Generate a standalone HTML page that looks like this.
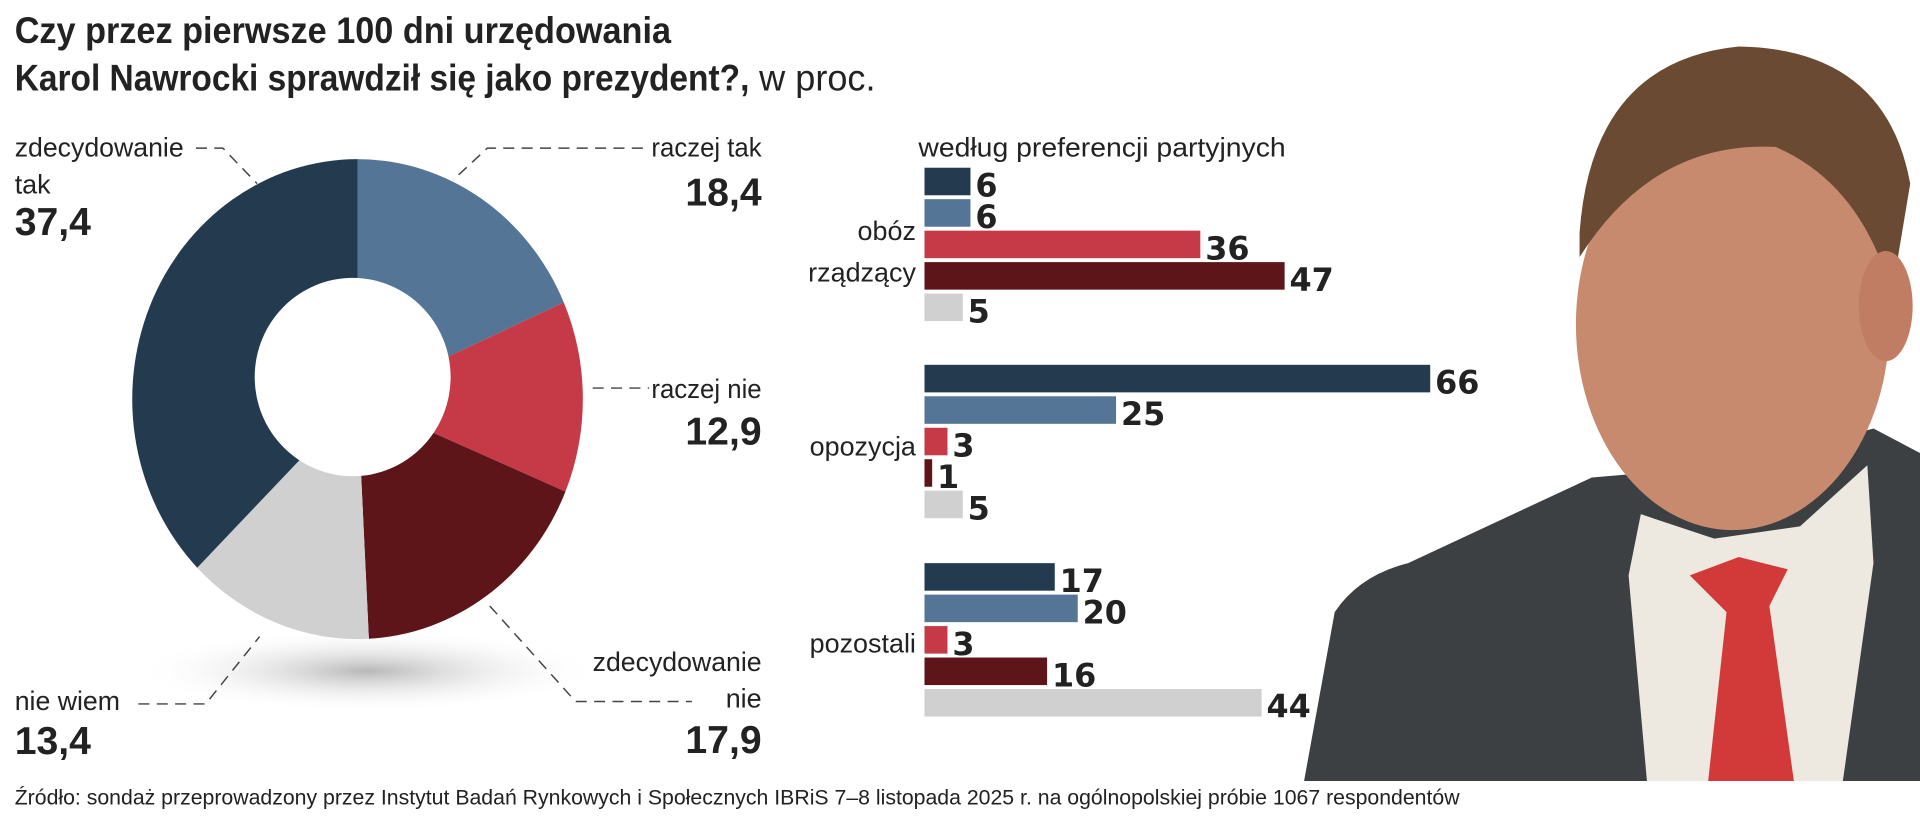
<!DOCTYPE html>
<html><head><meta charset="utf-8">
<style>
html,body{margin:0;padding:0;background:#fff;}
svg{display:block;}
.l{font-family:"Liberation Sans Narrow","Liberation Sans",sans-serif;fill:#222;}
.b{font-family:"Liberation Sans Narrow","Liberation Sans",sans-serif;font-weight:bold;fill:#222;}
.v{font-family:"DejaVu Sans","Liberation Sans",sans-serif;font-weight:bold;fill:#222;}
.d{stroke:#444;stroke-width:1.2;stroke-dasharray:9,6;fill:none;}
</style></head>
<body>
<svg id="chart" width="1920" height="819" viewBox="0 0 1568 669" preserveAspectRatio="none" xmlns="http://www.w3.org/2000/svg">
<defs>
<radialGradient id="sh" cx="50%" cy="50%" r="50%"><stop offset="0" stop-color="#999" stop-opacity="0.7"/><stop offset="1" stop-color="#fff" stop-opacity="0"/></radialGradient>
</defs>
<g>
<text class="b" x="12" y="35" font-size="30" textLength="536" lengthAdjust="spacingAndGlyphs">Czy przez pierwsze 100 dni urzędowania</text>
<text class="b" x="12" y="74" font-size="30" textLength="600" lengthAdjust="spacingAndGlyphs">Karol Nawrocki sprawdził się jako prezydent?,</text>
<text class="l" x="620" y="74" font-size="30" textLength="95" lengthAdjust="spacingAndGlyphs">w proc.</text>
</g>

<!-- photo -->
<g>
<path d="M1065,638 L1090,500 Q1110,470 1150,460 L1300,390 L1420,380 L1530,350 L1568,370 L1568,638 Z" fill="#3d4043"/>
<path d="M1340,420 L1400,440 L1470,430 L1525,380 L1530,460 L1505,638 L1345,638 L1330,470 Z" fill="#ede9e0"/>
<path d="M1380,470 L1420,455 L1460,465 L1445,495 L1465,638 L1395,638 L1410,500 Z" fill="#d23a3a"/>
<ellipse cx="1415" cy="265" rx="128" ry="168" fill="#c78a6e"/>
<path d="M1290,190 Q1300,50 1420,38 Q1540,40 1560,150 L1545,240 Q1520,150 1450,120 Q1350,115 1290,210 Z" fill="#6a4a32"/>
<ellipse cx="1540" cy="250" rx="22" ry="45" fill="#c07d63"/>
</g>

<g id="pie"></g>

<g>
<text class="l" x="12" y="128" font-size="22" textLength="138" lengthAdjust="spacingAndGlyphs">zdecydowanie</text>
<text class="l" x="12" y="158" font-size="22">tak</text>
<text class="b" x="12" y="192" font-size="32">37,4</text>
<path class="d" d="M160,121 H182 L210,150"/>
<text class="l" x="622" y="128" font-size="22" text-anchor="end" textLength="90" lengthAdjust="spacingAndGlyphs">raczej tak</text>
<text class="b" x="622" y="168" font-size="32" text-anchor="end">18,4</text>
<path class="d" d="M525,121 H398 L370,147"/>
<text class="l" x="622" y="325" font-size="22" text-anchor="end" textLength="90" lengthAdjust="spacingAndGlyphs">raczej nie</text>
<text class="b" x="622" y="363" font-size="32" text-anchor="end">12,9</text>
<path class="d" d="M484,317 H530"/>
<text class="l" x="622" y="548" font-size="22" text-anchor="end" textLength="138" lengthAdjust="spacingAndGlyphs">zdecydowanie</text>
<text class="l" x="622" y="578" font-size="22" text-anchor="end">nie</text>
<text class="b" x="622" y="615" font-size="32" text-anchor="end">17,9</text>
<path class="d" d="M400,495 L470,573 H565"/>
<text class="l" x="12" y="580" font-size="22" textLength="86" lengthAdjust="spacingAndGlyphs">nie wiem</text>
<text class="b" x="12" y="616" font-size="32">13,4</text>
<path class="d" d="M113,575 H168 L212,520"/>
</g>

<g>
<text class="l" x="750" y="128" font-size="22" textLength="300" lengthAdjust="spacingAndGlyphs">według preferencji partyjnych</text>
</g>
<g id="bars"></g>

<text class="l" x="12" y="657" font-size="17" fill="#333" textLength="1180" lengthAdjust="spacingAndGlyphs">Źródło: sondaż przeprowadzony przez Instytut Badań Rynkowych i Społecznych IBRiS 7–8 listopada 2025 r. na ogólnopolskiej próbie 1067 respondentów</text>
</svg>
<script>
const pieCategories = ["raczej tak","raczej nie","zdecydowanie nie","nie wiem","zdecydowanie tak"];
const pieValues = [18.4, 12.9, 17.9, 13.4, 37.4];
const pieColors = ["#557596","#c63a48","#5d1519","#d0d0d0","#243a4f"];

const groupNames = ["obóz rządzący","opozycja","pozostali"];
const seriesNames = ["zdecydowanie tak","raczej tak","raczej nie","zdecydowanie nie","nie wiem"];
const groupRzadzacy = [6, 6, 36, 47, 5];
const groupOpozycja = [66, 25, 3, 1, 5];
const groupPozostali = [17, 20, 3, 16, 44];

const NS = "http://www.w3.org/2000/svg";
function mk(tag, attrs, parent){const e=document.createElementNS(NS,tag);for(const k in attrs)e.setAttribute(k,attrs[k]);parent.appendChild(e);return e;}

// donut
const pie = document.getElementById('pie');
const cx=292, cy=326, rx=184, ry=196;
const shadow = mk('ellipse',{cx:300,cy:548,rx:190,ry:34,fill:'url(#sh)'},pie);


const total = pieValues.reduce((a,b)=>a+b,0);
let acc=0;
function pt(f){const a=f*2*Math.PI;return [cx+rx*Math.sin(a), cy-ry*Math.cos(a)];}
pieValues.forEach((v,i)=>{
  const f0=acc/total, f1=(acc+v)/total; acc+=v;
  const p0=pt(f0), p1=pt(f1);
  const large=(f1-f0)>0.5?1:0;
  const p=mk('path',{d:`M${cx},${cy} L${p0[0]},${p0[1]} A${rx},${ry} 0 ${large} 1 ${p1[0]},${p1[1]} Z`,fill:pieColors[i]},pie);
  
  
});
const hole=mk('ellipse',{cx:288,cy:308,rx:80,ry:81,fill:'#fff'},pie);



// bars
const bars=document.getElementById('bars');
const groups=[groupRzadzacy,groupOpozycja,groupPozostali];
const x0=755, unit=(1168-755)/66;
const xs=v=>v*unit;
const groupTop=[137,298,460], pitch=25.7, bh=22.5;
const barColors=["#243a4f","#557596","#c63a48","#5d1519","#d0d0d0"];
groups.forEach((g,gi)=>{
  g.forEach((v,si)=>{
    const y=groupTop[gi]+si*pitch;
    const r=mk('rect',{x:x0,y:y,width:xs(v),height:bh,fill:barColors[si]},bars);
    
    
    const t=mk('text',{x:x0+xs(v)+4,y:y+bh+1,'font-size':26,class:'v'},bars);
    t.textContent=v;
    
    
  });
});
const gl=[["obóz",196],["rządzący",230],["opozycja",372],["pozostali",533]];
gl.forEach(([s,y])=>{
  const t=mk('text',{x:748,y:y,'font-size':22,class:'l','text-anchor':'end'},bars);
  t.textContent=s;
  
  
});
</script>
</body></html>
